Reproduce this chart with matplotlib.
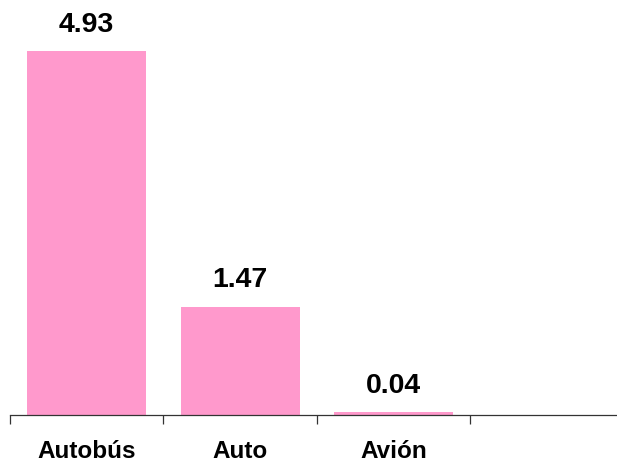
import matplotlib
matplotlib.use("Agg")
import matplotlib.pyplot as plt

categories = ["Autobús", "Auto", "Avión", ""]
values = [4.93, 1.47, 0.04, None]
bar_color = "#FF99CC"

plt.rcParams["font.family"] = ["Liberation Sans", "DejaVu Sans"]

fig = plt.figure(figsize=(6.17, 4.62), dpi=100)
# axis line sits at y=415 px, runs from x=10 px past the right edge
ax = fig.add_axes([10 / 617, 47 / 462, 614 / 617, 415 / 462])

xs = [i for i, v in enumerate(values) if v is not None]
hs = [v for v in values if v is not None]
bars = ax.bar(xs, hs, width=0.775, color=bar_color, edgecolor="none")

for x, h in zip(xs, hs):
    ax.annotate(f"{h:.2f}", (x, h), xytext=(0, 14), textcoords="offset points",
                ha="center", va="baseline", fontsize=20.5, fontweight="bold")

ax.set_xlim(-0.5, len(categories) - 0.5)
ax.set_ylim(0, 415 / 73.8)

# category labels at centres, tick marks at the boundaries
ax.set_xticks(range(len(categories)))
ax.set_xticklabels(categories, fontsize=17.5, fontweight="bold")
ax.tick_params(axis="x", which="major", length=0, pad=18)
ax.set_xticks([i - 0.5 for i in range(len(categories) + 1)], minor=True)
ax.tick_params(axis="x", which="minor", length=6.5, width=0.9, color="#333333")

ax.set_yticks([])
for side in ["left", "right", "top"]:
    ax.spines[side].set_visible(False)
ax.spines["bottom"].set_linewidth(0.9)
ax.spines["bottom"].set_color("#333333")

fig.savefig("out.png", dpi=100)
